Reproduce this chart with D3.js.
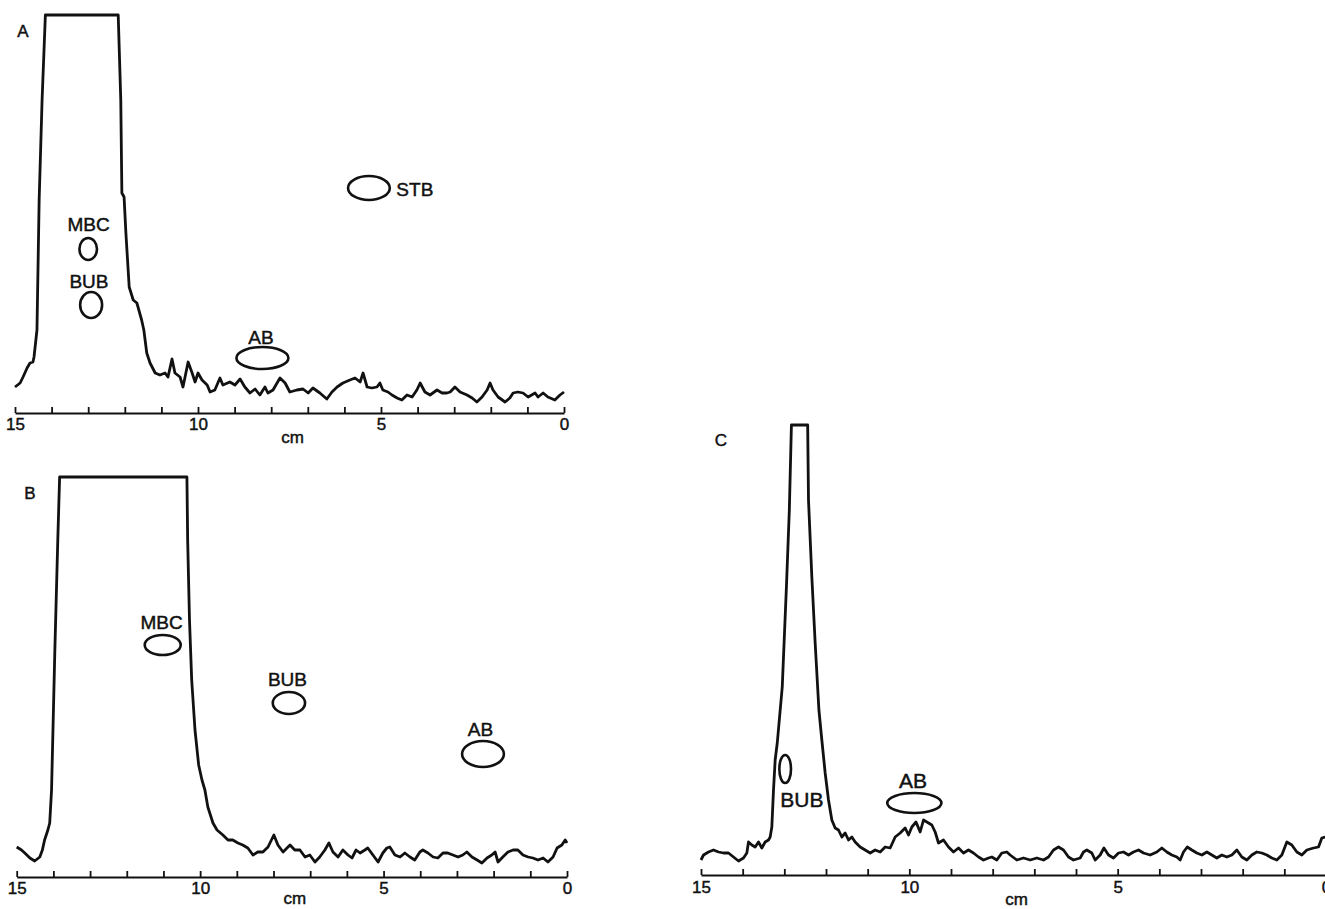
<!DOCTYPE html>
<html>
<head>
<meta charset="utf-8">
<script src="https://cdn.jsdelivr.net/npm/d3@7"></script>
<style>
  body { margin: 0; background: #fff; }
  text { font-family: "Liberation Sans", Arial, sans-serif; fill: #111; stroke: #111; stroke-width: 0.45px; }
</style>
</head>
<body>
<div id="chart"></div>
<script>
// densitometer scans of three plates: [distance (cm), intensity (arb. units)]
var scanA = [
  [15.0, 26], [14.86, 30], [14.78, 36], [14.67, 45], [14.59, 50], [14.51, 51], [14.48, 56],
  [14.40, 83], [14.34, 213], [14.26, 313], [14.17, 398], [12.18, 398], [12.11, 313],
  [12.08, 220], [12.02, 216], [11.97, 180], [11.88, 126], [11.77, 113], [11.67, 110],
  [11.54, 93], [11.48, 83], [11.40, 60], [11.31, 50], [11.17, 40], [11.04, 38], [10.90, 40],
  [10.82, 36], [10.71, 54], [10.63, 40], [10.49, 36], [10.41, 26], [10.27, 51], [10.16, 40],
  [10.08, 31], [10.0, 40], [9.89, 33], [9.75, 28], [9.67, 21], [9.54, 23], [9.40, 35],
  [9.32, 28], [9.13, 31], [8.99, 28], [8.85, 34], [8.72, 26], [8.58, 20], [8.44, 24],
  [8.31, 18], [8.17, 26], [8.09, 20], [7.95, 23], [7.84, 30], [7.76, 35], [7.62, 30],
  [7.49, 21], [7.30, 23], [7.13, 24], [6.99, 20], [6.86, 25], [6.67, 20], [6.48, 14],
  [6.34, 21], [6.20, 26], [6.04, 30], [5.85, 33], [5.71, 35], [5.57, 31], [5.49, 40],
  [5.38, 26], [5.25, 25], [5.11, 26], [5.03, 30], [4.95, 23], [4.81, 21], [4.70, 18],
  [4.56, 15], [4.43, 13], [4.29, 18], [4.15, 16], [4.02, 23], [3.93, 30], [3.80, 21],
  [3.66, 18], [3.47, 23], [3.33, 20], [3.20, 20], [3.11, 21], [2.98, 26], [2.84, 21],
  [2.65, 18], [2.51, 15], [2.38, 11], [2.24, 16], [2.10, 23], [2.02, 30], [1.94, 23],
  [1.80, 16], [1.61, 11], [1.48, 15], [1.39, 20], [1.26, 21], [1.12, 20], [0.98, 16],
  [0.79, 20], [0.71, 16], [0.57, 20], [0.44, 16], [0.25, 13], [0.11, 18], [0.0, 21]
]

var scanB = [
  [15.0, 30], [14.87, 27], [14.78, 24], [14.64, 19], [14.51, 16], [14.37, 20], [14.30, 27],
  [14.24, 37], [14.15, 47], [14.10, 54], [14.05, 87], [13.96, 227], [13.88, 337],
  [13.83, 400], [10.36, 400], [10.34, 337], [10.29, 257], [10.23, 197], [10.14, 147],
  [10.04, 112], [9.95, 97], [9.87, 87], [9.79, 70], [9.65, 54], [9.54, 47], [9.38, 42],
  [9.24, 37], [9.11, 37], [8.97, 34], [8.84, 32], [8.70, 29], [8.56, 22], [8.43, 25],
  [8.29, 25], [8.15, 30], [7.99, 42], [7.88, 32], [7.74, 25], [7.55, 32], [7.42, 27],
  [7.28, 27], [7.14, 20], [7.01, 22], [6.87, 15], [6.74, 20], [6.60, 27], [6.49, 34],
  [6.38, 25], [6.24, 20], [6.11, 27], [5.97, 22], [5.86, 19], [5.75, 27], [5.64, 24],
  [5.51, 27], [5.43, 29], [5.29, 22], [5.15, 15], [5.02, 24], [4.91, 29], [4.83, 30],
  [4.69, 22], [4.55, 20], [4.42, 24], [4.28, 20], [4.15, 17], [4.01, 25], [3.93, 27],
  [3.79, 24], [3.65, 20], [3.52, 19], [3.38, 24], [3.25, 24], [3.11, 22], [2.97, 20],
  [2.84, 22], [2.73, 25], [2.59, 20], [2.45, 17], [2.32, 14], [2.18, 19], [2.05, 22],
  [1.96, 25], [1.88, 15], [1.75, 20], [1.61, 25], [1.47, 27], [1.34, 27], [1.20, 22],
  [1.06, 20], [0.93, 19], [0.79, 17], [0.65, 19], [0.52, 15], [0.38, 20], [0.27, 29],
  [0.14, 32], [0.05, 37], [0.0, 34]
]

var scanC = [
  [15.0, 15], [14.94, 20], [14.82, 23], [14.70, 25], [14.58, 23], [14.46, 22], [14.34, 22],
  [14.22, 18], [14.10, 14], [13.98, 17], [13.90, 22], [13.86, 33], [13.78, 30], [13.70, 28],
  [13.62, 33], [13.54, 27], [13.46, 33], [13.38, 35], [13.34, 38], [13.30, 48], [13.26, 85],
  [13.22, 115], [13.17, 132], [13.05, 188], [12.95, 288], [12.88, 365], [12.83, 450],
  [12.44, 450], [12.42, 375], [12.34, 298], [12.26, 232], [12.17, 165], [12.10, 135],
  [12.02, 102], [11.94, 75], [11.86, 55], [11.78, 47], [11.70, 45], [11.62, 38], [11.54, 42],
  [11.46, 35], [11.38, 38], [11.30, 33], [11.18, 28], [11.06, 25], [10.94, 22], [10.82, 25],
  [10.70, 23], [10.58, 28], [10.46, 27], [10.34, 38], [10.22, 42], [10.10, 47], [10.02, 40],
  [9.94, 48], [9.84, 53], [9.74, 43], [9.66, 55], [9.54, 52], [9.46, 50], [9.38, 43],
  [9.30, 32], [9.18, 35], [9.06, 28], [8.94, 23], [8.82, 27], [8.70, 22], [8.58, 25],
  [8.46, 22], [8.34, 18], [8.22, 15], [8.10, 17], [8.02, 18], [7.90, 15], [7.78, 22],
  [7.66, 23], [7.58, 20], [7.42, 15], [7.26, 17], [7.10, 15], [6.94, 17], [6.78, 15],
  [6.66, 18], [6.54, 25], [6.42, 28], [6.30, 25], [6.18, 18], [6.06, 15], [5.90, 17],
  [5.82, 23], [5.74, 25], [5.62, 22], [5.54, 15], [5.42, 20], [5.33, 27], [5.22, 20],
  [5.10, 17], [4.98, 22], [4.86, 23], [4.74, 20], [4.62, 23], [4.50, 25], [4.38, 22],
  [4.22, 20], [4.06, 23], [3.94, 27], [3.82, 23], [3.70, 20], [3.58, 18], [3.50, 15],
  [3.42, 23], [3.33, 28], [3.22, 25], [3.10, 22], [2.98, 20], [2.86, 23], [2.74, 20],
  [2.62, 17], [2.50, 20], [2.38, 18], [2.26, 20], [2.14, 25], [2.02, 18], [1.90, 15],
  [1.78, 20], [1.66, 23], [1.54, 22], [1.42, 20], [1.30, 17], [1.18, 15], [1.06, 20],
  [0.94, 33], [0.82, 30], [0.70, 23], [0.58, 20], [0.46, 25], [0.30, 27], [0.18, 28],
  [0.10, 37], [0.02, 38]
]

// reference spots: name, spot centre (cm, intensity), half extent (cm, intensity), label centre (cm, intensity)
var spotsA = [
  ["MBC", 13.00, 164, 0.24, 11, 12.99, 189],
  ["BUB", 12.92, 108, 0.30, 13, 12.98, 132],
  ["AB", 8.24, 55, 0.71, 11, 8.28, 76],
  ["STB", 5.33, 225, 0.57, 12, 4.58, 224]
]
var spotsB = [
  ["MBC", 11.02, 232, 0.49, 10, 11.05, 255],
  ["BUB", 7.58, 174, 0.44, 11, 7.62, 198],
  ["AB", 2.29, 123, 0.57, 13, 2.36, 148]
]
var spotsC = [
  ["BUB", 12.98, 106, 0.14, 14, 12.58, 76],
  ["AB", 9.88, 72, 0.65, 10, 9.91, 95]
]

var tickCm = d3.range(0, 16)

// --- drawing -------------------------------------------
var svg = d3.select("#chart").append("svg")
  .attr("width", 1325)
  .attr("height", 909)

function panel(opts) {
  var x = d3.scaleLinear().domain([15, 0]).range(opts.xRange),
      y = d3.scaleLinear().domain([0, opts.yMax]).range([opts.base, opts.base - opts.yMax])

  var g = svg.append("g")

  // axis with ticks pointing up into the plot
  var axis = d3.axisBottom(x)
    .tickValues(tickCm)
    .tickSizeInner(-6)
    .tickSizeOuter(0)
    .tickPadding(opts.pad)
    .tickFormat(d => d % 5 === 0 ? d : "")

  var ax = g.append("g")
    .attr("transform", `translate(0,${opts.base})`)
    .call(axis)
  ax.select(".domain").attr("stroke", "#111").attr("stroke-width", 2.2)
  ax.selectAll(".tick line").attr("stroke", "#111").attr("stroke-width", 1.8)
  ax.selectAll(".tick text")
    .style("font-size", "17px")
    .style("font-family", "Liberation Sans, Arial, sans-serif")
    .attr("fill", "#111")

  g.append("text")
    .attr("x", x(7.5) + 3)
    .attr("y", opts.cmY)
    .attr("text-anchor", "middle")
    .style("font-size", "17px")
    .text("cm")

  // scan trace
  var line = d3.line()
    .x(d => x(d[0]))
    .y(d => y(d[1]))

  g.append("path")
    .datum(opts.scan)
    .attr("d", line)
    .attr("fill", "none")
    .attr("stroke", "#111")
    .attr("stroke-width", 2.8)
    .attr("stroke-linejoin", "round")

  // spots
  g.selectAll("ellipse.spot")
    .data(opts.spots)
    .enter().append("ellipse")
      .attr("class", "spot")
      .attr("cx", d => x(d[1]))
      .attr("cy", d => y(d[2]))
      .attr("rx", d => Math.abs(x(d[1] + d[3]) - x(d[1])))
      .attr("ry", d => d[4])
      .attr("fill", "none")
      .attr("stroke", "#111")
      .attr("stroke-width", 2.6)

  g.selectAll("text.lbl")
    .data(opts.spots)
    .enter().append("text")
      .attr("class", "lbl")
      .attr("x", d => x(d[5]))
      .attr("y", d => y(d[6]))
      .attr("dy", "0.36em")
      .attr("text-anchor", d => d[0] === "STB" ? "start" : "middle")
      .style("font-size", opts.lblSize + "px")
      .text(d => d[0])

  g.append("text")
    .attr("x", opts.letter[1])
    .attr("y", opts.letter[2])
    .attr("dy", "0.36em")
    .attr("text-anchor", "middle")
    .style("font-size", "17px")
    .text(opts.letter[0])
}

panel({ xRange: [15, 564], base: 413, yMax: 400, pad: 5, cmY: 443, scan: scanA, spots: spotsA, lblSize: 19, letter: ["A", 23, 31] })
panel({ xRange: [16.7, 567], base: 877, yMax: 400, pad: 5, cmY: 904, scan: scanB, spots: spotsB, lblSize: 19, letter: ["B", 30, 493] })
panel({ xRange: [701, 1326], base: 875, yMax: 450, pad: 6, cmY: 905, scan: scanC, spots: spotsC, lblSize: 21, letter: ["C", 721, 440] })
</script>
</body>
</html>
